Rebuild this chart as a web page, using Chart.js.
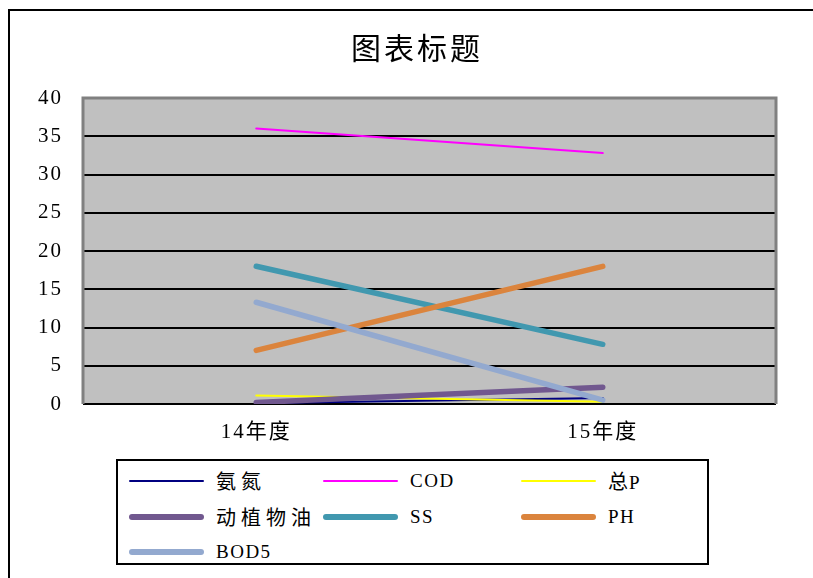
<!DOCTYPE html>
<html>
<head>
<meta charset="utf-8">
<script src="https://cdn.jsdelivr.net/npm/chart.js@4/dist/chart.umd.min.js"></script>
<style>
  html, body { margin: 0; padding: 0; background: #fff; }
  #wrap { position: relative; width: 813px; height: 578px; overflow: hidden; }
  #frame { position: absolute; left: 8px; top: 9px; width: 900px; height: 700px; border: 2px solid #000; box-sizing: border-box; pointer-events: none; }
  canvas { position: absolute; left: 0; top: 0; }
  #legend { position: absolute; left: 116px; top: 459px; width: 593px; height: 106px; border: 2px solid #000; box-sizing: border-box; background: #fff; }
  .item { position: absolute; height: 24px; }
  .swatch { position: absolute; left: 0; width: 75px; border-radius: 3px; }
  .lbl { position: absolute; left: 87px; top: 0; white-space: nowrap; font-family: "Liberation Serif", "Noto Sans CJK SC", serif; font-size: 19px; line-height: 24px; color: #000; }
  .cjk { font-family: "Noto Sans CJK SC", sans-serif; font-size: 20px; letter-spacing: 5px; }
  .cjk.tight { margin-right: -4px; }
  .lat { letter-spacing: 1.5px; }
</style>
</head>
<body>
<div id="wrap">
  <canvas id="c" width="813" height="578"></canvas>
  <div id="frame"></div>
  <div id="legend"></div>
</div>
<script>
const chartTitle = '图表标题';
const categories = ['14年度', '15年度'];
const seriesNames = ['氨氮', 'COD', '总P', '动植物油', 'SS', 'PH', 'BOD5'];
const ammonia = [0.1, 0.8];
const cod = [36.0, 32.8];
const totalP = [1.1, 0.3];
const oil = [0.2, 2.2];
const ss = [18.0, 7.8];
const ph = [7.0, 18.0];
const bod5 = [13.3, 0.5];
const yTicks = [0, 5, 10, 15, 20, 25, 30, 35, 40];

const seriesValues = [ammonia, cod, totalP, oil, ss, ph, bod5];
const colors = ['#000080', '#FF00FF', '#FFFF00', '#71588F', '#4198AF', '#DB843D', '#93A9CF'];
const widths = [2, 2, 2, 5.5, 5.5, 5.5, 5.5];

const datasets = seriesNames.map((n, i) => ({
  label: n,
  data: seriesValues[i],
  borderColor: colors[i],
  backgroundColor: colors[i],
  borderWidth: widths[i],
  borderCapStyle: 'round',
  pointRadius: 0,
  pointHoverRadius: 0,
  tension: 0,
  fill: false,
  order: seriesNames.length - i
}));

const plotBg = {
  id: 'plotBg',
  beforeDraw(chart) {
    const { ctx, chartArea: a } = chart;
    ctx.save();
    ctx.fillStyle = '#C0C0C0';
    ctx.fillRect(a.left, a.top, a.right - a.left, a.bottom - a.top);
    ctx.restore();
  },
  beforeDatasetsDraw(chart) {
    const { ctx, chartArea: a } = chart;
    ctx.save();
    ctx.strokeStyle = '#808080';
    ctx.lineWidth = 3;
    ctx.beginPath();
    ctx.moveTo(a.left, a.bottom);
    ctx.lineTo(a.left, a.top);
    ctx.lineTo(a.right, a.top);
    ctx.lineTo(a.right, a.bottom);
    ctx.stroke();
    ctx.restore();
  }
};

const spacing = {
  id: 'spacing',
  beforeDraw(chart) { chart.ctx.letterSpacing = '2px'; }
};

const titlePlugin = {
  id: 'titleText',
  afterDraw(chart) {
    const ctx = chart.ctx;
    ctx.save();
    ctx.letterSpacing = '3px';
    ctx.font = '30px "Noto Sans CJK SC", sans-serif';
    ctx.fillStyle = '#000';
    ctx.textAlign = 'center';
    ctx.textBaseline = 'middle';
    ctx.fillText(chartTitle, 417, 48);
    ctx.restore();
  }
};

const chart = new Chart(document.getElementById('c'), {
  type: 'line',
  data: { labels: categories, datasets },
  plugins: [spacing, plotBg, titlePlugin],
  options: {
    responsive: false,
    animation: false,
    devicePixelRatio: 1,
    layout: { padding: { top: 98, left: 0, right: 37, bottom: 0 } },
    plugins: {
      legend: { display: false },
      tooltip: { enabled: false },
      title: { display: false }
    },
    scales: {
      x: {
        offset: true,
        grid: { display: false, drawTicks: false },
        border: { display: false },
        ticks: {
          color: '#000',
          padding: 16,
          font: { family: '"Liberation Serif", "Noto Sans CJK SC", serif', size: 21 }
        },
        afterFit(s) { s.height = 174; }
      },
      y: {
        min: 0,
        max: 40,
        afterBuildTicks(s) { s.ticks = yTicks.map(v => ({ value: v })); },
        grid: {
          drawTicks: false,
          lineWidth: 2,
          color: (c) => (c.tick && c.tick.value === 40) ? 'rgba(0,0,0,0)' : '#000'
        },
        border: { display: false },
        ticks: {
          color: '#000',
          padding: 20,
          font: { family: '"Liberation Serif", serif', size: 21 }
        },
        afterFit(s) { s.width = 83; }
      }
    }
  }
});

// HTML legend built from the chart datasets
const legend = document.getElementById('legend');
const colX = [11, 205, 403];
const rowY = [8, 44, 79];
chart.data.datasets.forEach((ds, i) => {
  const it = document.createElement('div');
  it.className = 'item';
  it.style.left = colX[i % 3] + 'px';
  it.style.top = rowY[Math.floor(i / 3)] + 'px';
  const sw = document.createElement('div');
  sw.className = 'swatch';
  sw.style.background = ds.borderColor;
  sw.style.height = ds.borderWidth + 'px';
  sw.style.top = (12 - ds.borderWidth / 2) + 'px';
  const lb = document.createElement('div');
  lb.className = 'lbl';
  const segs = ds.label.match(/[\u4e00-\u9fff]+|[^\u4e00-\u9fff]+/g) || [];
  segs.forEach((seg, k) => {
    const sp = document.createElement('span');
    const isCjk = /[\u4e00-\u9fff]/.test(seg);
    sp.className = isCjk ? ('cjk' + (k < segs.length - 1 ? ' tight' : '')) : 'lat';
    sp.textContent = seg;
    lb.appendChild(sp);
  });
  it.appendChild(sw);
  it.appendChild(lb);
  legend.appendChild(it);
});
</script>
</body>
</html>
